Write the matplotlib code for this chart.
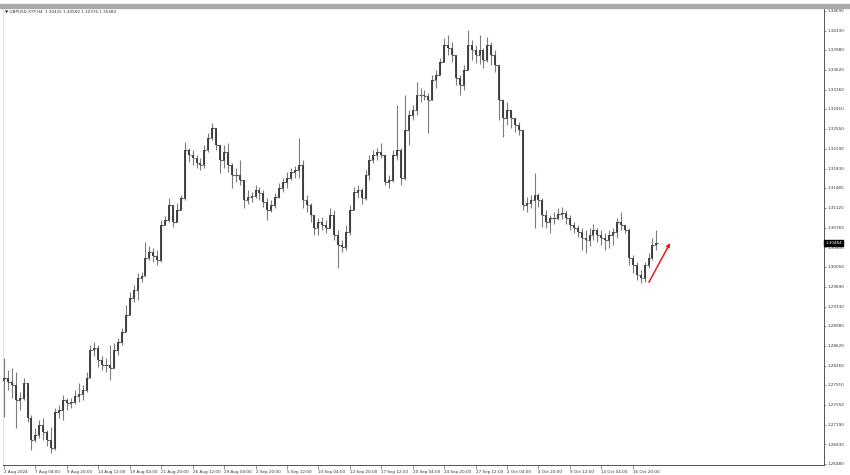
import matplotlib
matplotlib.use("Agg")
import matplotlib.pyplot as plt
import numpy as np
from matplotlib.patches import Rectangle
from matplotlib.transforms import blended_transform_factory

# ---- data (GBPUSD, 2-bar resolution of the H4 chart) ----
highs = [
    1.2840, 1.2818, 1.2822, 1.2814, 1.2778, 1.2804, 1.2791, 1.2737, 1.2713, 1.2727,
    1.2731, 1.2709, 1.2715, 1.2749, 1.2755, 1.2773, 1.2767, 1.2767, 1.2782, 1.2794,
    1.2791, 1.2814, 1.2863, 1.2869, 1.2863, 1.2843, 1.2840, 1.2863, 1.2867, 1.2876,
    1.2894, 1.2936, 1.2959, 1.2972, 1.2994, 1.2996, 1.3050, 1.3043, 1.3039, 1.3035,
    1.3090, 1.3097, 1.3130, 1.3111, 1.3121, 1.3135, 1.3231, 1.3220, 1.3217, 1.3208,
    1.3202, 1.3226, 1.3247, 1.3266, 1.3256, 1.3226, 1.3226, 1.3229, 1.3193, 1.3184,
    1.3199, 1.3162, 1.3144, 1.3141, 1.3153, 1.3150, 1.3144, 1.3130, 1.3126, 1.3139,
    1.3157, 1.3166, 1.3177, 1.3184, 1.3188, 1.3238, 1.3199, 1.3135, 1.3121, 1.3099,
    1.3093, 1.3095, 1.3090, 1.3111, 1.3108, 1.3072, 1.3054, 1.3081, 1.3117, 1.3150,
    1.3153, 1.3148, 1.3180, 1.3208, 1.3217, 1.3220, 1.3229, 1.3208, 1.3171, 1.3217,
    1.3298, 1.3220, 1.3316, 1.3289, 1.3298, 1.3340, 1.3329, 1.3325, 1.3320, 1.3353,
    1.3362, 1.3383, 1.3420, 1.3425, 1.3412, 1.3389, 1.3353, 1.3371, 1.3434, 1.3416,
    1.3407, 1.3425, 1.3401, 1.3421, 1.3412, 1.3398, 1.3365, 1.3307, 1.3303, 1.3289,
    1.3275, 1.3267, 1.3253, 1.3131, 1.3135, 1.3175, 1.3139, 1.3130, 1.3108, 1.3099,
    1.3104, 1.3111, 1.3113, 1.3108, 1.3099, 1.3086, 1.3081, 1.3075, 1.3072, 1.3075,
    1.3083, 1.3075, 1.3072, 1.3066, 1.3072, 1.3075, 1.3093, 1.3104, 1.3081, 1.3075,
    1.3026, 1.3014, 1.2999, 1.3014, 1.3030, 1.3057, 1.3072,
]
lows = [
    1.2733, 1.2782, 1.2767, 1.2713, 1.2746, 1.2764, 1.2724, 1.2673, 1.2687, 1.2695,
    1.2691, 1.2680, 1.2668, 1.2673, 1.2731, 1.2727, 1.2746, 1.2749, 1.2756, 1.2760,
    1.2764, 1.2778, 1.2809, 1.2843, 1.2823, 1.2818, 1.2814, 1.2800, 1.2822, 1.2845,
    1.2863, 1.2890, 1.2927, 1.2941, 1.2945, 1.2977, 1.2996, 1.3017, 1.3014, 1.3008,
    1.3014, 1.3081, 1.3086, 1.3077, 1.3086, 1.3108, 1.3126, 1.3195, 1.3189, 1.3184,
    1.3180, 1.3184, 1.3213, 1.3235, 1.3217, 1.3175, 1.3184, 1.3177, 1.3148, 1.3159,
    1.3153, 1.3111, 1.3119, 1.3122, 1.3130, 1.3126, 1.3113, 1.3090, 1.3104, 1.3111,
    1.3130, 1.3141, 1.3148, 1.3162, 1.3166, 1.3166, 1.3111, 1.3104, 1.3086, 1.3063,
    1.3063, 1.3072, 1.3066, 1.3075, 1.3054, 1.3003, 1.3032, 1.3035, 1.3063, 1.3117,
    1.3130, 1.3119, 1.3126, 1.3162, 1.3193, 1.3199, 1.3202, 1.3153, 1.3148, 1.3159,
    1.3199, 1.3153, 1.3162, 1.3226, 1.3271, 1.3280, 1.3303, 1.3307, 1.3247, 1.3307,
    1.3329, 1.3353, 1.3376, 1.3389, 1.3376, 1.3334, 1.3316, 1.3325, 1.3362, 1.3380,
    1.3374, 1.3372, 1.3365, 1.3376, 1.3371, 1.3358, 1.3271, 1.3240, 1.3262, 1.3256,
    1.3249, 1.3244, 1.3108, 1.3104, 1.3111, 1.3075, 1.3113, 1.3077, 1.3075, 1.3066,
    1.3083, 1.3090, 1.3092, 1.3083, 1.3072, 1.3066, 1.3059, 1.3035, 1.3030, 1.3043,
    1.3054, 1.3050, 1.3044, 1.3035, 1.3039, 1.3044, 1.3057, 1.3072, 1.3066, 1.3008,
    1.2994, 1.2981, 1.2976, 1.2977, 1.3003, 1.3017, 1.3035,
]
closes = [
    1.2804, 1.2796, 1.2791, 1.2764, 1.2767, 1.2794, 1.2731, 1.2691, 1.2700, 1.2718,
    1.2706, 1.2691, 1.2677, 1.2742, 1.2746, 1.2764, 1.2758, 1.2760, 1.2771, 1.2774,
    1.2782, 1.2804, 1.2854, 1.2858, 1.2836, 1.2827, 1.2827, 1.2822, 1.2854, 1.2869,
    1.2887, 1.2918, 1.2948, 1.2963, 1.2985, 1.2988, 1.3021, 1.3032, 1.3025, 1.3017,
    1.3081, 1.3090, 1.3117, 1.3086, 1.3108, 1.3130, 1.3217, 1.3208, 1.3202, 1.3193,
    1.3189, 1.3217, 1.3238, 1.3256, 1.3226, 1.3199, 1.3213, 1.3189, 1.3171, 1.3171,
    1.3162, 1.3126, 1.3131, 1.3133, 1.3144, 1.3139, 1.3122, 1.3108, 1.3117, 1.3131,
    1.3148, 1.3159, 1.3166, 1.3177, 1.3180, 1.3189, 1.3126, 1.3117, 1.3099, 1.3075,
    1.3086, 1.3081, 1.3075, 1.3099, 1.3063, 1.3044, 1.3041, 1.3068, 1.3108, 1.3141,
    1.3144, 1.3130, 1.3171, 1.3199, 1.3208, 1.3213, 1.3208, 1.3159, 1.3162, 1.3208,
    1.3217, 1.3166, 1.3253, 1.3280, 1.3289, 1.3316, 1.3316, 1.3314, 1.3307, 1.3343,
    1.3353, 1.3376, 1.3407, 1.3401, 1.3389, 1.3347, 1.3334, 1.3362, 1.3407, 1.3398,
    1.3389, 1.3398, 1.3380, 1.3407, 1.3389, 1.3371, 1.3307, 1.3275, 1.3289, 1.3275,
    1.3262, 1.3253, 1.3117, 1.3121, 1.3126, 1.3135, 1.3126, 1.3099, 1.3086, 1.3093,
    1.3093, 1.3101, 1.3102, 1.3093, 1.3081, 1.3075, 1.3068, 1.3057, 1.3054, 1.3063,
    1.3072, 1.3063, 1.3057, 1.3054, 1.3063, 1.3068, 1.3086, 1.3081, 1.3072, 1.3021,
    1.3008, 1.2990, 1.2985, 1.3008, 1.3021, 1.3044, 1.30484,
]
first_open = 1.2800

xtick_labels = [
    "2 Aug 2024", "7 Aug 04:00", "9 Aug 20:00", "14 Aug 12:00", "19 Aug 04:00",
    "21 Aug 20:00", "26 Aug 12:00", "29 Aug 04:00", "2 Sep 20:00", "5 Sep 12:00",
    "10 Sep 04:00", "12 Sep 20:00", "17 Sep 12:00", "20 Sep 04:00", "24 Sep 20:00",
    "27 Sep 12:00", "2 Oct 04:00", "4 Oct 20:00", "9 Oct 12:00", "14 Oct 04:00",
    "16 Oct 20:00",
]
xtick_step = 8
ytick_values = [
    1.34690, 1.34330, 1.33980, 1.33620, 1.33260, 1.32910, 1.32550, 1.32190,
    1.31830, 1.31480, 1.31120, 1.30760, 1.30400, 1.30050, 1.29690, 1.29330,
    1.28980, 1.28620, 1.28260, 1.27910, 1.27550, 1.27190, 1.26830, 1.26480,
]
header = "\u25bc GBPUSD-STP,H4  1.30435 1.30500 1.30376 1.30484"
last_price = 1.30484
arrow_start = (164.1, 1.2977)
arrow_end = (169.5, 1.3048)

# ---- figure ----
W, H = 850, 475
fig = plt.figure(figsize=(W / 100, H / 100), dpi=100)
fig.patch.set_facecolor("white")

ax_left, ax_right, ax_top, ax_bottom = 3, 824, 8, 465
ax = fig.add_axes([ax_left / W, (H - ax_bottom) / H,
                   (ax_right - ax_left) / W, (ax_bottom - ax_top) / H])

n = len(closes)
idx = np.arange(n)
opens = np.array([first_open] + closes[:-1])
cl = np.array(closes)

ax.vlines(idx, lows, highs, color="#7d7d7d", lw=0.8, zorder=2)
ax.vlines(idx, np.minimum(opens, cl), np.maximum(opens, cl),
          color="#363636", lw=1.3, zorder=3)
ax.hlines(opens, idx - 0.45, idx, color="#555555", lw=0.8, zorder=3)
ax.hlines(cl, idx, idx + 0.45, color="#555555", lw=0.8, zorder=3)

px_per_bar = 3.93
ax.set_xlim(-0.25, -0.25 + (ax_right - ax_left) / px_per_bar)
ax.set_ylim(1.26458, 1.34739)

# x ticks
ax.set_xticks(np.arange(len(xtick_labels)) * xtick_step)
ax.set_xticklabels(xtick_labels, fontsize=3.0, color="#333333")
for lab in ax.get_xticklabels():
    lab.set_horizontalalignment("left")
ax.tick_params(axis="x", length=3, width=0.5, color="#666666", pad=0.3,
               direction="out")

# y ticks on the right
ax.yaxis.tick_right()
ax.set_yticks(ytick_values)
ax.set_yticklabels([f"{v:.5f}" for v in ytick_values], fontsize=3.0,
                   color="#333333")
ax.tick_params(axis="y", length=1.5, width=0.5, color="#666666", pad=1.2)

ax.spines["top"].set_visible(False)
ax.spines["left"].set_color("#d0d0d0")
ax.spines["left"].set_linewidth(0.5)
ax.spines["bottom"].set_color("#555555")
ax.spines["bottom"].set_linewidth(0.7)
ax.spines["right"].set_color("#555555")
ax.spines["right"].set_linewidth(0.7)

# top grey band
fig.patches.append(Rectangle((0, (H - 8) / H), 1, 4.5 / H,
                             transform=fig.transFigure,
                             color="#a9a9a9", zorder=0))

# header text
fig.text(5 / W, (H - 11.8) / H, header, fontsize=3.0, color="#333333",
         va="center", ha="left")

# current price box
trans = blended_transform_factory(ax.transAxes, ax.transData)
ax.text(1.0015, last_price, f"{last_price:.5f}", transform=trans,
        fontsize=3.0, color="white", va="center", ha="left",
        bbox=dict(boxstyle="square,pad=0.25", fc="black", ec="black"),
        zorder=5, clip_on=False)

# red arrow
ax.annotate("", xy=arrow_end, xytext=arrow_start,
            arrowprops=dict(arrowstyle="-|>", color="#e3201b", lw=1.1,
                            mutation_scale=5, shrinkA=0, shrinkB=0))

fig.savefig("out.png", dpi=100)
